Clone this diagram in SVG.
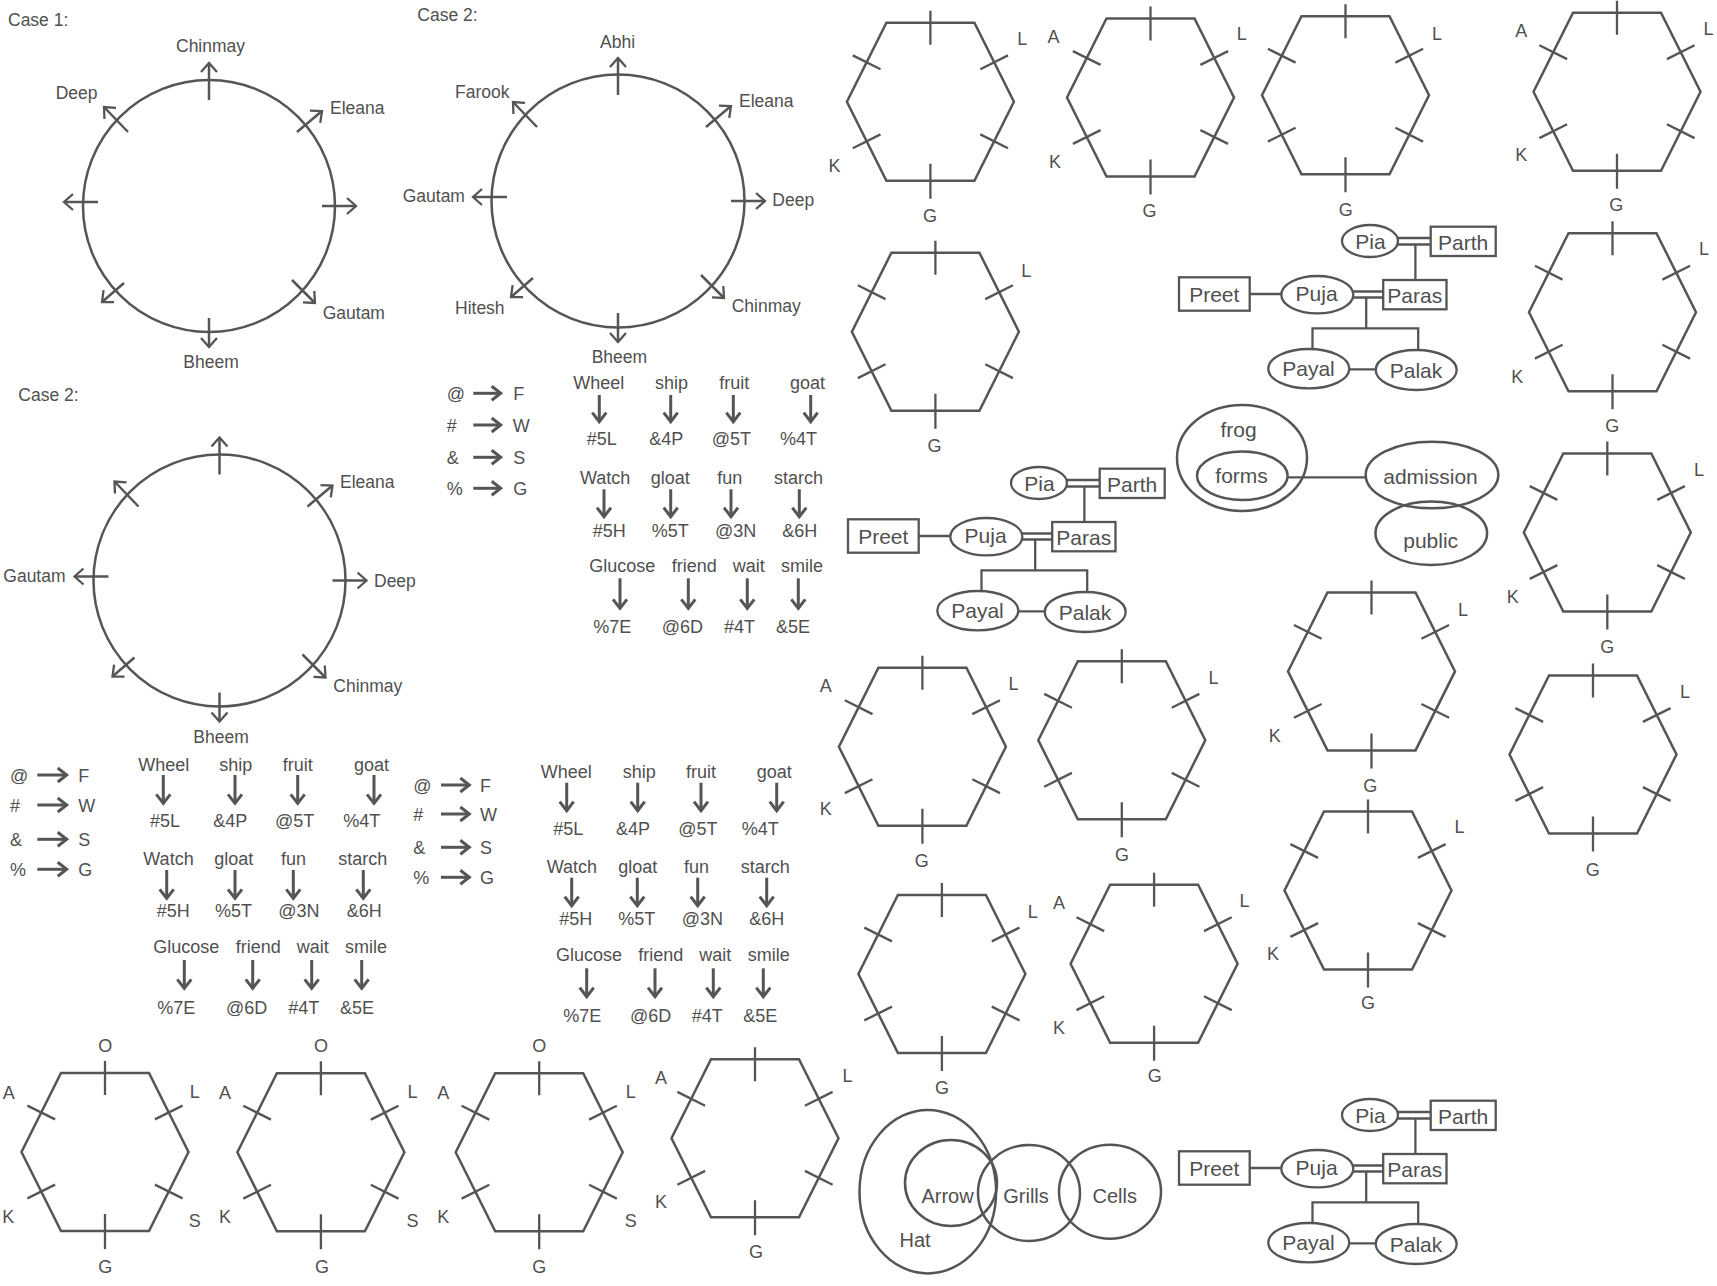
<svg xmlns="http://www.w3.org/2000/svg" width="1717" height="1286" viewBox="0 0 1717 1286">
<style>
.ln{fill:none;stroke:#555;stroke-width:2.5}
.tk{fill:none;stroke:#555;stroke-width:2.3}
.cn{fill:none;stroke:#555;stroke-width:2.5;marker-end:url(#ah)}
.da{fill:none;stroke:#555;stroke-width:3;marker-end:url(#dh)}
.tl{fill:none;stroke:#555;stroke-width:2.3}
.bx{fill:#fff;stroke:#555;stroke-width:2.3}
text{font-family:"Liberation Sans",Arial,Helvetica,sans-serif;fill:#505050}
.c{font-size:17.5px}
.w{font-size:18px}
.h{font-size:18px;text-anchor:middle}
.n{font-size:21px;text-anchor:middle}
.v{font-size:20px;text-anchor:middle}
</style>
<defs>
<marker id="ah" markerUnits="userSpaceOnUse" markerWidth="24" markerHeight="24" viewBox="-12 -12 24 24" refX="0" refY="0" orient="auto" overflow="visible">
<path d="M-9,-8L0,0L-9,8" fill="none" stroke="#555" stroke-width="2.3" stroke-linejoin="miter"/>
</marker>
<marker id="dh" markerUnits="userSpaceOnUse" markerWidth="24" markerHeight="24" viewBox="-12 -12 24 24" refX="0" refY="0" orient="auto" overflow="visible">
<path d="M-9,-7L0,0L-9,7" fill="none" stroke="#555" stroke-width="3" stroke-linejoin="miter"/>
</marker>
<g id="hexshape">
<polygon class="ln" points="-44,-79 44,-79 83.5,0 44,79 -44,79 -83.5,0"/>
<path class="tk" d="M0,-91V-57M0,62V97M-77.6,-46.4L-49.9,-32.6M77.6,-46.4L49.9,-32.6M-77.6,46.4L-49.9,32.6M77.6,46.4L49.9,32.6"/>
</g>
</defs>
<rect width="1717" height="1286" fill="#fff"/>

<!-- Case 1 circle -->
<g id="case1">
<text class="c" x="8" y="26">Case 1:</text>
<circle class="ln" cx="209" cy="206" r="126"/>
<text class="c" x="176" y="51.7">Chinmay</text>
<text class="c" x="55.7" y="99">Deep</text>
<text class="c" x="330" y="114">Eleana</text>
<text class="c" x="322.7" y="319.3">Gautam</text>
<text class="c" x="183.3" y="368.3">Bheem</text>
</g>
<g id="case1-connectors" transform="translate(209,206)">
<path class="cn" d="M0,-106V-143"/>
<path class="cn" d="M113,0H147"/>
<path class="cn" d="M-111,-4H-145"/>
<path class="cn" d="M0,112V141"/>
<path class="cn" d="M88,-74L113,-95"/>
<path class="cn" d="M-81,-74L-105,-99"/>
<path class="cn" d="M83,74L106,97"/>
<path class="cn" d="M-85,77L-107,96"/>
</g>

<!-- Case 2 top circle -->
<g id="case2a">
<text class="c" x="417.3" y="20.7">Case 2:</text>
<circle class="ln" cx="618" cy="201" r="126.5"/>
<text class="c" x="600" y="47.7">Abhi</text>
<text class="c" x="455" y="97.7">Farook</text>
<text class="c" x="739" y="107.3">Eleana</text>
<text class="c" x="402.7" y="201.7">Gautam</text>
<text class="c" x="772.3" y="206">Deep</text>
<text class="c" x="455" y="314.3">Hitesh</text>
<text class="c" x="731.7" y="311.7">Chinmay</text>
<text class="c" x="591.7" y="362.7">Bheem</text>
</g>
<g id="case2a-connectors" transform="translate(618,201)">
<path class="cn" d="M0,-106V-143"/>
<path class="cn" d="M113,0H147"/>
<path class="cn" d="M-111,-4H-145"/>
<path class="cn" d="M0,112V141"/>
<path class="cn" d="M88,-74L113,-95"/>
<path class="cn" d="M-81,-74L-105,-99"/>
<path class="cn" d="M83,74L106,97"/>
<path class="cn" d="M-85,77L-107,96"/>
</g>

<!-- Case 2 lower circle -->
<g id="case2b">
<text class="c" x="18.3" y="400.7">Case 2:</text>
<circle class="ln" cx="219.5" cy="580.5" r="126"/>
<text class="c" x="340" y="488.3">Eleana</text>
<text class="c" x="3.3" y="582.3">Gautam</text>
<text class="c" x="374" y="586.7">Deep</text>
<text class="c" x="333.3" y="691.7">Chinmay</text>
<text class="c" x="193.3" y="742.7">Bheem</text>
</g>
<g id="case2b-connectors" transform="translate(219.5,580.5)">
<path class="cn" d="M0,-106V-143"/>
<path class="cn" d="M113,0H147"/>
<path class="cn" d="M-111,-4H-145"/>
<path class="cn" d="M0,112V141"/>
<path class="cn" d="M88,-74L113,-95"/>
<path class="cn" d="M-81,-74L-105,-99"/>
<path class="cn" d="M83,74L106,97"/>
<path class="cn" d="M-85,77L-107,96"/>
</g>

<!-- Code table A -->
<g id="tableA">
<text class="w" x="446.7" y="399.8">@</text><text class="w" x="513.3" y="399.8">F</text>
<text class="w" x="446.7" y="431.5">#</text><text class="w" x="512.7" y="431.5">W</text>
<text class="w" x="446.7" y="463.8">&amp;</text><text class="w" x="513.3" y="463.8">S</text>
<text class="w" x="446.7" y="494.8">%</text><text class="w" x="513.3" y="494.8">G</text>
<text class="w" x="573.3" y="389">Wheel</text><text class="w" x="655" y="389">ship</text><text class="w" x="719.3" y="389">fruit</text><text class="w" x="790" y="389">goat</text>
<text class="w" x="586.7" y="445">#5L</text><text class="w" x="649.3" y="445">&amp;4P</text><text class="w" x="711.7" y="445">@5T</text><text class="w" x="780" y="445">%4T</text>
<text class="w" x="580" y="484">Watch</text><text class="w" x="650.7" y="484">gloat</text><text class="w" x="717.3" y="484">fun</text><text class="w" x="774" y="484">starch</text>
<text class="w" x="592.7" y="536.7">#5H</text><text class="w" x="651.7" y="536.7">%5T</text><text class="w" x="715" y="536.7">@3N</text><text class="w" x="782.3" y="536.7">&amp;6H</text>
<text class="w" x="589.3" y="572.3">Glucose</text><text class="w" x="671.7" y="572.3">friend</text><text class="w" x="732.7" y="572.3">wait</text><text class="w" x="781" y="572.3">smile</text>
<text class="w" x="593.3" y="633.3">%7E</text><text class="w" x="661.7" y="633.3">@6D</text><text class="w" x="724" y="633.3">#4T</text><text class="w" x="776" y="633.3">&amp;5E</text>
</g>
<g id="tableA-connectors">
<path class="da" d="M473.3,393.3H500.7"/><path class="da" d="M473.3,425H500.7"/><path class="da" d="M473.3,457.3H500.7"/><path class="da" d="M473.3,488.3H500.7"/>
<path class="da" d="M599.3,395V421.7"/><path class="da" d="M670.7,395V421.7"/><path class="da" d="M733.3,395V421.7"/><path class="da" d="M810.7,395V421.7"/>
<path class="da" d="M604,489.3V516.7"/><path class="da" d="M670.7,489.3V516.7"/><path class="da" d="M731,489.3V516.7"/><path class="da" d="M799.3,489.3V516.7"/>
<path class="da" d="M620,578.3V608.3"/><path class="da" d="M688.3,578.3V608.3"/><path class="da" d="M747.3,578.3V608.3"/><path class="da" d="M798.3,578.3V608.3"/>
</g>

<!-- Code table B -->
<g id="tableB">
<text class="w" x="10" y="781.5">@</text><text class="w" x="78.3" y="781.5">F</text>
<text class="w" x="10" y="811.5">#</text><text class="w" x="78.3" y="811.5">W</text>
<text class="w" x="10" y="845.8">&amp;</text><text class="w" x="78.3" y="845.8">S</text>
<text class="w" x="10" y="875.8">%</text><text class="w" x="78.3" y="875.8">G</text>
<text class="w" x="138.3" y="770.7">Wheel</text><text class="w" x="219.3" y="770.7">ship</text><text class="w" x="282.7" y="770.7">fruit</text><text class="w" x="354" y="770.7">goat</text>
<text class="w" x="150" y="827.3">#5L</text><text class="w" x="213.3" y="827.3">&amp;4P</text><text class="w" x="275" y="827.3">@5T</text><text class="w" x="343.3" y="827.3">%4T</text>
<text class="w" x="143.3" y="865">Watch</text><text class="w" x="214.3" y="865">gloat</text><text class="w" x="281" y="865">fun</text><text class="w" x="338.3" y="865">starch</text>
<text class="w" x="156.7" y="916.7">#5H</text><text class="w" x="215" y="916.7">%5T</text><text class="w" x="278.3" y="916.7">@3N</text><text class="w" x="346.7" y="916.7">&amp;6H</text>
<text class="w" x="153.3" y="953.3">Glucose</text><text class="w" x="235.7" y="953.3">friend</text><text class="w" x="296.7" y="953.3">wait</text><text class="w" x="345" y="953.3">smile</text>
<text class="w" x="157.3" y="1014">%7E</text><text class="w" x="226" y="1014">@6D</text><text class="w" x="288.3" y="1014">#4T</text><text class="w" x="340" y="1014">&amp;5E</text>
</g>
<g id="tableB-connectors">
<path class="da" d="M37.3,775H66.7"/><path class="da" d="M37.3,805H66.7"/><path class="da" d="M37.3,839.3H66.7"/><path class="da" d="M37.3,869.3H66.7"/>
<path class="da" d="M163.3,775V803.3"/><path class="da" d="M235,775V803.3"/><path class="da" d="M297.7,775V803.3"/><path class="da" d="M374,775V803.3"/>
<path class="da" d="M166.7,870V898.3"/><path class="da" d="M235,870V898.3"/><path class="da" d="M293.3,870V898.3"/><path class="da" d="M363.3,870V898.3"/>
<path class="da" d="M184.3,960V988.3"/><path class="da" d="M252.7,960V988.3"/><path class="da" d="M311.7,960V988.3"/><path class="da" d="M361.7,960V988.3"/>
</g>

<!-- Code table C -->
<g id="tableC">
<text class="w" x="413.3" y="791.5">@</text><text class="w" x="480" y="791.5">F</text>
<text class="w" x="413.3" y="820.5">#</text><text class="w" x="480" y="820.5">W</text>
<text class="w" x="413.3" y="853.8">&amp;</text><text class="w" x="480" y="853.8">S</text>
<text class="w" x="413.3" y="883.8">%</text><text class="w" x="480" y="883.8">G</text>
<text class="w" x="540.7" y="778.3">Wheel</text><text class="w" x="622.7" y="778.3">ship</text><text class="w" x="686" y="778.3">fruit</text><text class="w" x="756.7" y="778.3">goat</text>
<text class="w" x="553.3" y="835">#5L</text><text class="w" x="616" y="835">&amp;4P</text><text class="w" x="678.3" y="835">@5T</text><text class="w" x="741.7" y="835">%4T</text>
<text class="w" x="546.7" y="873.3">Watch</text><text class="w" x="618.3" y="873.3">gloat</text><text class="w" x="684" y="873.3">fun</text><text class="w" x="740.7" y="873.3">starch</text>
<text class="w" x="559.3" y="925">#5H</text><text class="w" x="618.3" y="925">%5T</text><text class="w" x="681.7" y="925">@3N</text><text class="w" x="749.3" y="925">&amp;6H</text>
<text class="w" x="556" y="960.7">Glucose</text><text class="w" x="638.3" y="960.7">friend</text><text class="w" x="699.3" y="960.7">wait</text><text class="w" x="747.7" y="960.7">smile</text>
<text class="w" x="563.3" y="1021.7">%7E</text><text class="w" x="630" y="1021.7">@6D</text><text class="w" x="691.7" y="1021.7">#4T</text><text class="w" x="743.3" y="1021.7">&amp;5E</text>
</g>
<g id="tableC-connectors">
<path class="da" d="M441,785H469.3"/><path class="da" d="M441,814H469.3"/><path class="da" d="M441,847.3H469.3"/><path class="da" d="M441,877.3H469.3"/>
<path class="da" d="M566.7,782.7V810.7"/><path class="da" d="M637.7,782.7V810.7"/><path class="da" d="M701,782.7V810.7"/><path class="da" d="M776.7,782.7V810.7"/>
<path class="da" d="M571.7,877.7V905.7"/><path class="da" d="M637.3,877.7V905.7"/><path class="da" d="M697.7,877.7V905.7"/><path class="da" d="M766.7,877.7V905.7"/>
<path class="da" d="M586.7,968.3V996.7"/><path class="da" d="M655,968.3V996.7"/><path class="da" d="M713.3,968.3V996.7"/><path class="da" d="M763.3,968.3V996.7"/>
</g>

<!-- Hexagons -->
<g id="hex-t1"><use href="#hexshape" x="930.4" y="101.8"/><text class="h" x="1022.3" y="44.8">L</text><text class="h" x="834.5" y="171.5">K</text><text class="h" x="930.1" y="221.5">G</text></g>
<g id="hex-t2"><use href="#hexshape" x="1150.5" y="97.5"/><text class="h" x="1053.4" y="42.5">A</text><text class="h" x="1241.8" y="39.8">L</text><text class="h" x="1055.1" y="168.2">K</text><text class="h" x="1149.6" y="216.5">G</text></g>
<g id="hex-t3"><use href="#hexshape" x="1345.5" y="95.2"/><text class="h" x="1436.9" y="39.8">L</text><text class="h" x="1345.8" y="215.8">G</text></g>
<g id="hex-t4"><use href="#hexshape" x="1617" y="91.7"/><text class="h" x="1521.2" y="37.2">A</text><text class="h" x="1708.4" y="34.8">L</text><text class="h" x="1521.2" y="160.5">K</text><text class="h" x="1616.2" y="210.5">G</text></g>
<g id="hex-t5"><use href="#hexshape" x="935.4" y="331.7"/><text class="h" x="1026.3" y="277.2">L</text><text class="h" x="934.6" y="452.2">G</text></g>
<g id="hex-t6"><use href="#hexshape" x="1612.5" y="312.2"/><text class="h" x="1703.9" y="254.8">L</text><text class="h" x="1517.2" y="382.5">K</text><text class="h" x="1612.2" y="432.2">G</text></g>
<g id="hex-r3"><use href="#hexshape" x="1607.3" y="532.5"/><text class="h" x="1699" y="475.8">L</text><text class="h" x="1512.7" y="603.2">K</text><text class="h" x="1607.3" y="653.2">G</text></g>
<g id="hex-r4"><use href="#hexshape" x="1593" y="754.5"/><text class="h" x="1685" y="698.2">L</text><text class="h" x="1592.7" y="875.8">G</text></g>
<g id="hex-m1"><use href="#hexshape" x="922.4" y="746.7"/><text class="h" x="825.7" y="691.5">A</text><text class="h" x="1013.4" y="689.8">L</text><text class="h" x="825.7" y="814.8">K</text><text class="h" x="921.8" y="866.5">G</text></g>
<g id="hex-m2"><use href="#hexshape" x="1121.8" y="740.3"/><text class="h" x="1213.6" y="683.8">L</text><text class="h" x="1122" y="860.5">G</text></g>
<g id="hex-m3"><use href="#hexshape" x="1371.5" y="671.4"/><text class="h" x="1463" y="615.5">L</text><text class="h" x="1274.8" y="742.2">K</text><text class="h" x="1370.3" y="791.5">G</text></g>
<g id="hex-m4"><use href="#hexshape" x="1368" y="890.5"/><text class="h" x="1459.6" y="832.5">L</text><text class="h" x="1273.1" y="959.8">K</text><text class="h" x="1368" y="1009.2">G</text></g>
<g id="hex-l1"><use href="#hexshape" x="941.9" y="974"/><text class="h" x="1032.8" y="918.2">L</text><text class="h" x="941.9" y="1094.2">G</text></g>
<g id="hex-l2"><use href="#hexshape" x="1154.1" y="963.7"/><text class="h" x="1059.1" y="909.2">A</text><text class="h" x="1244.5" y="906.5">L</text><text class="h" x="1059.1" y="1033.8">K</text><text class="h" x="1154.7" y="1082.2">G</text></g>
<g id="hex-b1"><use href="#hexshape" x="105" y="1152"/><text class="h" x="105.3" y="1051.5">O</text><text class="h" x="8.8" y="1098.5">A</text><text class="h" x="194.7" y="1097.5">L</text><text class="h" x="8.2" y="1223.2">K</text><text class="h" x="194.7" y="1226.5">S</text><text class="h" x="105.3" y="1273.2">G</text></g>
<g id="hex-b2"><use href="#hexshape" x="320.9" y="1152.2"/><text class="h" x="320.9" y="1051.5">O</text><text class="h" x="224.9" y="1098.5">A</text><text class="h" x="412.5" y="1097.5">L</text><text class="h" x="224.9" y="1223.2">K</text><text class="h" x="412.5" y="1226.5">S</text><text class="h" x="322" y="1273.2">G</text></g>
<g id="hex-b3"><use href="#hexshape" x="539.2" y="1152.2"/><text class="h" x="539.2" y="1051.5">O</text><text class="h" x="443.2" y="1098.5">A</text><text class="h" x="630.8" y="1097.5">L</text><text class="h" x="443.2" y="1223.2">K</text><text class="h" x="630.8" y="1226.5">S</text><text class="h" x="539.2" y="1273.2">G</text></g>
<g id="hex-b4"><use href="#hexshape" x="755" y="1138.3"/><text class="h" x="661" y="1083.8">A</text><text class="h" x="847.5" y="1081.5">L</text><text class="h" x="661" y="1208.2">K</text><text class="h" x="756" y="1258.2">G</text></g>

<!-- Family tree 1 -->
<g id="tree1">
<g id="tree1-connectors">
<path class="tl" d="M1397,238H1430.7M1397,244.5H1430.7M1415.4,244.5V280M1352,291.5H1383.2M1352,297.5H1383.2M1249.7,294H1281.3M1366.2,297.5V328.3M1312.5,349V328.3H1418.2V350M1349.3,369.3H1375.7"/>
</g>
<g id="tree1-pia"><ellipse class="bx" cx="1370" cy="241" rx="28" ry="16"/><text class="n" x="1370.5" y="249">Pia</text></g>
<g id="tree1-parth"><rect class="bx" x="1430.7" y="226.7" width="65" height="29.3"/><text class="n" x="1463.2" y="249.5">Parth</text></g>
<g id="tree1-paras"><rect class="bx" x="1383.2" y="280" width="63.3" height="29.3"/><text class="n" x="1414.8" y="302.5">Paras</text></g>
<g id="tree1-puja"><ellipse class="bx" cx="1317.3" cy="294.7" rx="36" ry="18.7"/><text class="n" x="1316.6" y="300.5">Puja</text></g>
<g id="tree1-preet"><rect class="bx" x="1179" y="277.3" width="70.7" height="33.4"/><text class="n" x="1214.3" y="302">Preet</text></g>
<g id="tree1-payal"><ellipse class="bx" cx="1308.8" cy="368.7" rx="40.5" ry="19.7"/><text class="n" x="1308.5" y="376">Payal</text></g>
<g id="tree1-palak"><ellipse class="bx" cx="1416.2" cy="370" rx="40.5" ry="20"/><text class="n" x="1416" y="378">Palak</text></g>
</g>

<!-- Family tree 2 -->
<g id="tree2" transform="translate(-331,242)">
<g id="tree2-connectors">
<path class="tl" d="M1397,238H1430.7M1397,244.5H1430.7M1415.4,244.5V280M1352,291.5H1383.2M1352,297.5H1383.2M1249.7,294H1281.3M1366.2,297.5V328.3M1312.5,349V328.3H1418.2V350M1349.3,369.3H1375.7"/>
</g>
<g id="tree2-pia"><ellipse class="bx" cx="1370" cy="241" rx="28" ry="16"/><text class="n" x="1370.5" y="249">Pia</text></g>
<g id="tree2-parth"><rect class="bx" x="1430.7" y="226.7" width="65" height="29.3"/><text class="n" x="1463.2" y="249.5">Parth</text></g>
<g id="tree2-paras"><rect class="bx" x="1383.2" y="280" width="63.3" height="29.3"/><text class="n" x="1414.8" y="302.5">Paras</text></g>
<g id="tree2-puja"><ellipse class="bx" cx="1317.3" cy="294.7" rx="36" ry="18.7"/><text class="n" x="1316.6" y="300.5">Puja</text></g>
<g id="tree2-preet"><rect class="bx" x="1179" y="277.3" width="70.7" height="33.4"/><text class="n" x="1214.3" y="302">Preet</text></g>
<g id="tree2-payal"><ellipse class="bx" cx="1308.8" cy="368.7" rx="40.5" ry="19.7"/><text class="n" x="1308.5" y="376">Payal</text></g>
<g id="tree2-palak"><ellipse class="bx" cx="1416.2" cy="370" rx="40.5" ry="20"/><text class="n" x="1416" y="378">Palak</text></g>
</g>

<!-- Family tree 3 -->
<g id="tree3" transform="translate(0,874)">
<g id="tree3-connectors">
<path class="tl" d="M1397,238H1430.7M1397,244.5H1430.7M1415.4,244.5V280M1352,291.5H1383.2M1352,297.5H1383.2M1249.7,294H1281.3M1366.2,297.5V328.3M1312.5,349V328.3H1418.2V350M1349.3,369.3H1375.7"/>
</g>
<g id="tree3-pia"><ellipse class="bx" cx="1370" cy="241" rx="28" ry="16"/><text class="n" x="1370.5" y="249">Pia</text></g>
<g id="tree3-parth"><rect class="bx" x="1430.7" y="226.7" width="65" height="29.3"/><text class="n" x="1463.2" y="249.5">Parth</text></g>
<g id="tree3-paras"><rect class="bx" x="1383.2" y="280" width="63.3" height="29.3"/><text class="n" x="1414.8" y="302.5">Paras</text></g>
<g id="tree3-puja"><ellipse class="bx" cx="1317.3" cy="294.7" rx="36" ry="18.7"/><text class="n" x="1316.6" y="300.5">Puja</text></g>
<g id="tree3-preet"><rect class="bx" x="1179" y="277.3" width="70.7" height="33.4"/><text class="n" x="1214.3" y="302">Preet</text></g>
<g id="tree3-payal"><ellipse class="bx" cx="1308.8" cy="368.7" rx="40.5" ry="19.7"/><text class="n" x="1308.5" y="376">Payal</text></g>
<g id="tree3-palak"><ellipse class="bx" cx="1416.2" cy="370" rx="40.5" ry="20"/><text class="n" x="1416" y="378">Palak</text></g>
</g>

<!-- Venn: frog / forms / admission / public -->
<g id="venn1">
<g id="venn1-connectors"><path class="tl" d="M1287.6,477.3H1365.7"/></g>
<g id="venn1-frog"><ellipse class="ln" cx="1242" cy="458" rx="65" ry="53"/><text class="n" x="1238.5" y="437">frog</text></g>
<g id="venn1-forms"><ellipse class="ln" cx="1242.3" cy="475.8" rx="45.3" ry="24.2"/><text class="n" x="1241.6" y="483">forms</text></g>
<g id="venn1-admission"><ellipse class="ln" cx="1432" cy="475" rx="66.3" ry="33.3"/><text class="n" x="1430.5" y="484">admission</text></g>
<g id="venn1-public"><ellipse class="ln" cx="1431.3" cy="533.3" rx="55.8" ry="31.7"/><text class="n" x="1430.7" y="548">public</text></g>
</g>

<!-- Venn: Hat / Arrow / Grills / Cells -->
<g id="venn2">
<g id="venn2-hat"><ellipse class="ln" cx="927.8" cy="1191.7" rx="68.3" ry="81.7"/><text class="v" x="915" y="1246.7">Hat</text></g>
<g id="venn2-arrow"><ellipse class="ln" cx="951" cy="1183" rx="46" ry="43"/><text class="v" x="947.5" y="1202.7">Arrow</text></g>
<g id="venn2-grills"><ellipse class="ln" cx="1029" cy="1193" rx="51" ry="48"/><text class="v" x="1026" y="1202.7">Grills</text></g>
<g id="venn2-cells"><ellipse class="ln" cx="1110" cy="1191.7" rx="51" ry="47"/><text class="v" x="1114.7" y="1202.7">Cells</text></g>
</g>
</svg>
